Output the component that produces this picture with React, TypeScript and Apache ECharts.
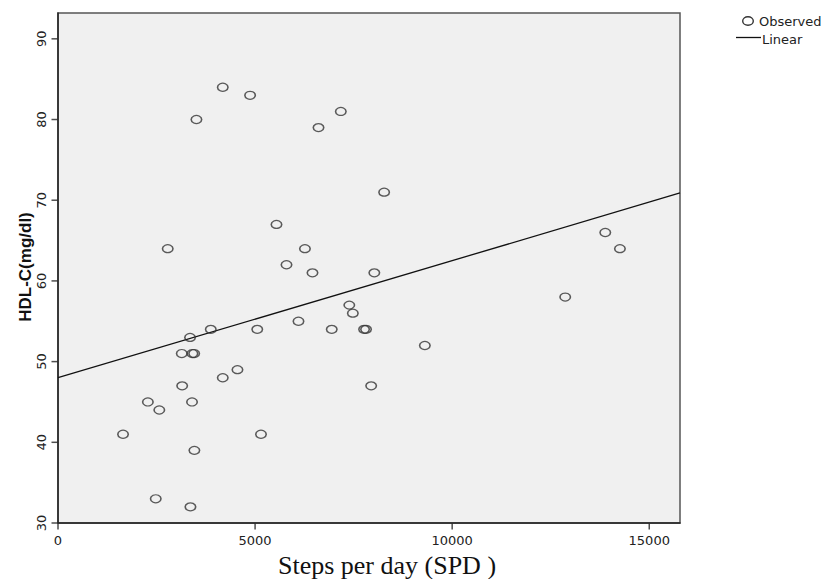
import React, { useEffect, useRef } from "react";
import * as echarts from "echarts";

// Observed points
const stepsPerDay = [
  1650, 2280, 2480, 2570, 2784, 3150, 3140, 3350, 3360, 3400,
  3410, 3455, 3460, 3512, 3876, 4180, 4180, 4553, 4873, 5055,
  5150, 5543, 5797, 6101, 6265, 6456, 6609, 6945, 7175, 7390,
  7480, 7765, 7815, 7945, 8025, 8274, 9307, 12868, 13884, 14256,
];
const hdlC = [
  41, 45, 33, 44, 64, 47, 51, 53, 32, 45,
  51, 51, 39, 80, 54, 48, 84, 49, 83, 54,
  41, 67, 62, 55, 64, 61, 79, 54, 81, 57,
  56, 54, 54, 47, 61, 71, 52, 58, 66, 64,
];

// Linear fit line endpoints
const linearX = [0, 15780];
const linearY = [48.0, 70.9];

// Axis ranges and ticks
const xMin = 0;
const xMax = 15780;
const yMin = 30;
const yMax = 93.2;
const xTicks = [0, 5000, 10000, 15000];
const yTicks = [30, 40, 50, 60, 70, 80, 90];

export default function App() {
  const ref = useRef<HTMLDivElement>(null);

  useEffect(() => {
    if (!ref.current) return;
    const chart = echarts.init(ref.current, null, { renderer: "svg" });
    const tickFont = {
      fontFamily: "DejaVu Sans",
      fontSize: 13,
      color: "#222",
    };
    const tickStyle = { color: "#222" };
    chart.setOption({
      animation: false,
      backgroundColor: "#ffffff",
      grid: {
        left: 58,
        top: 13,
        right: 158,
        bottom: 56,
        show: true,
        backgroundColor: "#f0f0f0",
        borderColor: "#555",
        borderWidth: 1.5,
      },
      xAxis: {
        type: "value",
        min: xMin,
        max: xMax,
        interval: 5000,
        splitLine: { show: false },
        axisLine: { show: true, onZero: false, lineStyle: { color: "#222", width: 1.5 } },
        axisTick: { show: false },
        axisLabel: {
          ...tickFont,
          margin: 11,
          customValues: xTicks,
          formatter: (v: number) => String(v),
        },
      },
      yAxis: {
        type: "value",
        min: yMin,
        max: yMax,
        interval: 10,
        splitLine: { show: false },
        axisLine: { show: true, onZero: false, lineStyle: { color: "#222", width: 1.5 } },
        axisTick: { show: false },
        axisLabel: {
          ...tickFont,
          rotate: 90,
          margin: 10,
          customValues: yTicks,
          formatter: (v: number) => String(v),
        },
      },
      series: [
        {
          name: "xTicks",
          type: "scatter",
          silent: true,
          clip: false,
          data: xTicks.map((x) => [x, yMin]),
          symbol: "rect",
          symbolSize: [1.5, 6],
          symbolOffset: [0, 3.5],
          itemStyle: tickStyle,
          z: 1,
        },
        {
          name: "yTicks",
          type: "scatter",
          silent: true,
          clip: false,
          data: yTicks.map((y) => [xMin, y]),
          symbol: "rect",
          symbolSize: [6, 1.5],
          symbolOffset: [-3.5, 0],
          itemStyle: tickStyle,
          z: 1,
        },
        {
          name: "Linear",
          type: "line",
          data: linearX.map((x, i) => [x, linearY[i]]),
          symbol: "none",
          lineStyle: { color: "#111", width: 1.3 },
          z: 2,
        },
        {
          name: "Observed",
          type: "scatter",
          data: stepsPerDay.map((x, i) => [x, hdlC[i]]),
          symbol: "circle",
          symbolSize: [10.5, 8],
          itemStyle: {
            color: "rgba(0,0,0,0)",
            borderColor: "#333",
            borderWidth: 1.4,
          },
          z: 3,
        },
      ],
      graphic: [
        {
          type: "text",
          x: 387,
          y: 565,
          style: {
            text: "Steps per day (SPD )",
            font: "26px 'Liberation Serif', 'Times New Roman', serif",
            fill: "#111",
            align: "center",
            verticalAlign: "middle",
          },
        },
        {
          type: "text",
          x: 25,
          y: 267,
          rotation: Math.PI / 2,
          style: {
            text: "HDL-C(mg/dl)",
            font: "bold 17px 'Liberation Sans', Arial, sans-serif",
            fill: "#111",
            align: "center",
            verticalAlign: "middle",
          },
        },
        {
          type: "ellipse",
          shape: { cx: 748, cy: 21, rx: 5.3, ry: 4.3 },
          style: { fill: "none", stroke: "#333", lineWidth: 1.4 },
        },
        {
          type: "text",
          x: 759,
          y: 21,
          style: {
            text: "Observed",
            font: "13px 'DejaVu Sans', sans-serif",
            fill: "#222",
            align: "left",
            verticalAlign: "middle",
          },
        },
        {
          type: "line",
          shape: { x1: 736, y1: 37.5, x2: 761, y2: 37.5 },
          style: { stroke: "#111", lineWidth: 1.3 },
        },
        {
          type: "text",
          x: 762,
          y: 39,
          style: {
            text: "Linear",
            font: "13px 'DejaVu Sans', sans-serif",
            fill: "#222",
            align: "left",
            verticalAlign: "middle",
          },
        },
      ],
    });
    return () => chart.dispose();
  }, []);

  return (
    <div
      ref={ref}
      style={{ position: "fixed", left: 0, top: 0, width: 838, height: 579 }}
    />
  );
}
